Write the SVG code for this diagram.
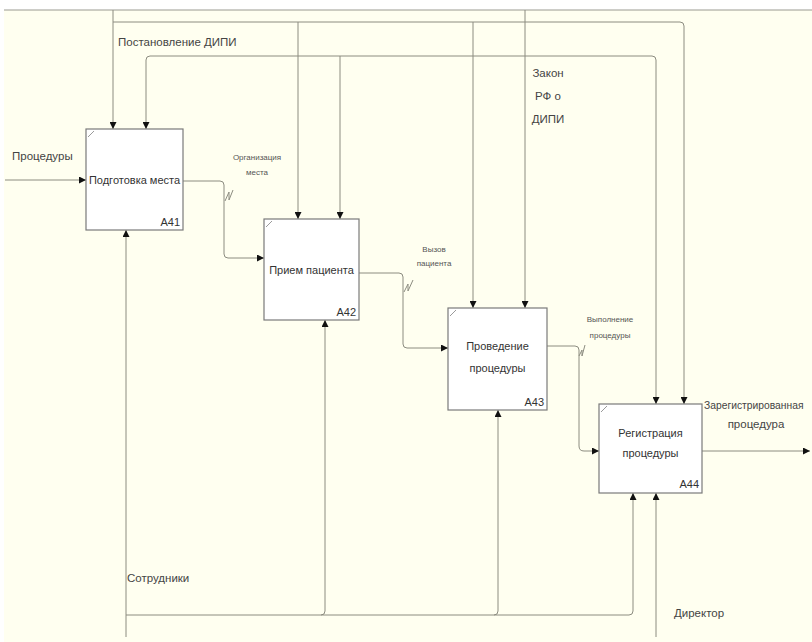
<svg xmlns="http://www.w3.org/2000/svg" width="812" height="642" viewBox="0 0 812 642">
  <style>
    .bg { fill: #fffff0; }
    .box rect { fill: #ffffff; stroke: #7a7a7a; stroke-width: 1.2; }
    .box .corner { stroke: #9a9a9a; stroke-width: 1; fill: none; }
    .lbl { font-family: "Liberation Sans", Arial, sans-serif; font-size: 11px; fill: #333; }
    .id { font-family: "Liberation Sans", Arial, sans-serif; font-size: 11px; fill: #333; text-anchor: end; }
    .tx { font-family: "Liberation Sans", Arial, sans-serif; font-size: 11.5px; fill: #444; }
    .sm { font-family: "Liberation Sans", Arial, sans-serif; font-size: 8px; fill: #555; text-anchor: middle; }
    .conn path { fill: none; stroke: #8c8c80; stroke-width: 1; }
    .conn .arr { marker-end: url(#ah); }
    .sq { fill: none; stroke: #8c8c80; stroke-width: 1; }
  </style>
  <defs>
    <marker id="ah" viewBox="0 0 10 10" refX="10" refY="5" markerWidth="7" markerHeight="7" markerUnits="userSpaceOnUse" orient="auto">
      <path d="M0,0 L10,5 L0,10 z" fill="#111"/>
    </marker>
  </defs>

  <!-- page -->
  <rect width="812" height="642" fill="#ffffff"/>
  <rect class="bg" x="4" y="10" width="808" height="632"/>
  <line x1="4" y1="10" x2="812" y2="10" stroke="#9a9a90" stroke-width="1"/>

  <g class="conn" id="connectors">
    <!-- Постановление ДИПИ: from the top edge, bus at y=22 -->
    <path class="arr" d="M113,10 V129"/>
    <path d="M113,22 H680 Q684,22 684,26"/>
    <path class="arr" d="M298,22 V219"/>
    <path class="arr" d="M473,22 V308"/>
    <path class="arr" d="M684,26 V404"/>
    <!-- Закон РФ о ДИПИ: from the top edge, bus at y=56 -->
    <path class="arr" d="M525,10 V308"/>
    <path class="arr" d="M525,56 H150 Q146,56 146,60 V129"/>
    <path class="arr" d="M340,56 V219"/>
    <path class="arr" d="M525,56 H652 Q656,56 656,60 V404"/>
    <!-- input Процедуры -->
    <path class="arr" d="M5,180 H86"/>
    <!-- A41 -> A42 -->
    <path class="arr" d="M183,181 H220 Q224,181 224,185 V254 Q224,258 228,258 H264"/>
    <!-- A42 -> A43 -->
    <path class="arr" d="M359,273 H399 Q403,273 403,277 V344 Q403,348 407,348 H448"/>
    <!-- A43 -> A44 -->
    <path class="arr" d="M547,346 H575 Q579,346 579,350 V446 Q579,451 584,451 H599"/>
    <!-- A44 output -->
    <path class="arr" d="M702,451 H810"/>
    <!-- Сотрудники -->
    <path class="arr" d="M126,637 V230"/>
    <path d="M126,615 H629 Q633,615 633,611"/>
    <path class="arr" d="M321,615 Q325,615 325,611 V320"/>
    <path class="arr" d="M494,615 Q498,615 498,611 V410"/>
    <path class="arr" d="M633,611 V493"/>
    <!-- Директор -->
    <path class="arr" d="M656,637 V493"/>
    <!-- label squiggles -->
    <path class="sq" d="M225,201 L229,192 L229,200 L233,190"/>
    <path class="sq" d="M404,292 L408,284 L408,291 L413,280"/>
    <path class="sq" d="M579,356 L582,350 L582,356 L585,345"/>
  </g>

  <g class="box" id="A41">
    <rect x="86" y="129" width="97" height="101"/>
    <path class="corner" d="M88,137 L94,131"/>
    <text class="lbl" x="134.5" y="184" text-anchor="middle">Подготовка места</text>
    <text class="id" x="180" y="226">A41</text>
  </g>
  <g class="box" id="A42">
    <rect x="264" y="219" width="95" height="101"/>
    <path class="corner" d="M266,227 L272,221"/>
    <text class="lbl" x="311.5" y="274" text-anchor="middle">Прием пациента</text>
    <text class="id" x="356" y="316">A42</text>
  </g>
  <g class="box" id="A43">
    <rect x="448" y="308" width="99" height="102"/>
    <path class="corner" d="M450,316 L456,310"/>
    <text class="lbl" x="497.5" y="350" text-anchor="middle">Проведение</text>
    <text class="lbl" x="497.5" y="372" text-anchor="middle">процедуры</text>
    <text class="id" x="544" y="406">A43</text>
  </g>
  <g class="box" id="A44">
    <rect x="599" y="404" width="103" height="89"/>
    <path class="corner" d="M601,412 L607,406"/>
    <text class="lbl" x="650.5" y="437" text-anchor="middle">Регистрация</text>
    <text class="lbl" x="650.5" y="457" text-anchor="middle">процедуры</text>
    <text class="id" x="699" y="488">A44</text>
  </g>

  <g id="labels">
    <text class="tx" x="118" y="46">Постановление ДИПИ</text>
    <text class="tx" x="548" y="77" text-anchor="middle">Закон</text>
    <text class="tx" x="548" y="100" text-anchor="middle">РФ о</text>
    <text class="tx" x="548" y="123" text-anchor="middle">ДИПИ</text>
    <text class="tx" x="12" y="160">Процедуры</text>
    <text class="sm" x="257" y="160">Организация</text>
    <text class="sm" x="257" y="175">места</text>
    <text class="sm" x="434" y="252">Вызов</text>
    <text class="sm" x="434" y="266">пациента</text>
    <text class="sm" x="610" y="322">Выполнение</text>
    <text class="sm" x="610" y="338">процедуры</text>
    <text class="tx" x="704" y="409" style="font-size:10.3px">Зарегистрированная</text>
    <text class="tx" x="756" y="428" text-anchor="middle">процедура</text>
    <text class="tx" x="127" y="582">Сотрудники</text>
    <text class="tx" x="674" y="617">Директор</text>
  </g>
</svg>
